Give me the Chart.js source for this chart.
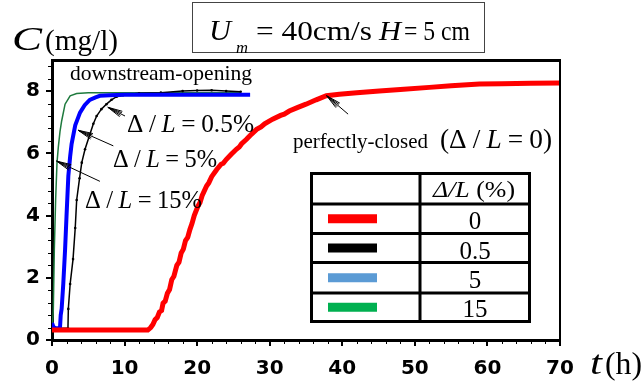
<!DOCTYPE html>
<html>
<head>
<meta charset="utf-8">
<script src="https://cdn.jsdelivr.net/npm/chart.js@4.4.0/dist/chart.umd.min.js"></script>
<style>
  body { margin: 0; background: #fff; }
  #wrap { width: 644px; height: 387px; }
</style>
</head>
<body>
<div id="wrap"><canvas id="c" width="644" height="387"></canvas></div>
<script>
// perfectly-closed (Δ/L = 0)
var tRed = [0, 5, 10, 13.2, 13.6, 13.9, 14.2, 14.5, 14.8, 15.1, 15.3, 15.6, 15.9, 16.2, 16.5, 16.8, 17.2, 17.5, 17.8, 18.1, 18.4, 18.7, 19.0, 19.3, 19.6, 20.1, 20.4, 20.7, 21.3, 21.6, 22.0, 22.7, 23.3, 23.6, 24.0, 24.7, 25.4, 25.8, 26.1, 26.8, 27.5, 28.2, 28.8, 29.3, 30.4, 31.5, 32.0, 32.7, 33.8, 35.0, 36.4, 37.8, 39.6, 42, 45.1, 48, 52, 55, 58.9, 62, 66, 70];
var cRed = [0.32, 0.32, 0.32, 0.32, 0.4, 0.5, 0.65, 0.72, 0.9, 0.95, 1.18, 1.25, 1.5, 1.62, 1.94, 2.05, 2.4, 2.5, 2.8, 2.92, 3.2, 3.3, 3.55, 3.75, 4.0, 4.3, 4.42, 4.65, 4.95, 5.05, 5.25, 5.48, 5.65, 5.68, 5.8, 5.97, 6.13, 6.2, 6.3, 6.45, 6.62, 6.77, 6.85, 6.95, 7.1, 7.22, 7.26, 7.36, 7.47, 7.58, 7.72, 7.85, 7.9, 7.95, 8.0, 8.05, 8.12, 8.17, 8.23, 8.24, 8.25, 8.26];
// Δ/L = 0.5 %
var tBlack = [0, 1, 2.2, 2.25, 2.5, 2.9, 3.2, 3.4, 3.8, 4.1, 4.55, 5.2, 5.7, 6.15, 6.8, 7.5, 8.2, 8.9, 9.8, 10.7, 12, 15, 18, 20, 22, 24, 26];
var cBlack = [0.38, 0.38, 0.38, 1.0, 1.8, 2.6, 3.6, 4.5, 5.2, 5.7, 6.13, 6.6, 6.95, 7.2, 7.42, 7.58, 7.72, 7.82, 7.87, 7.9, 7.93, 7.95, 8.0, 8.02, 8.03, 8.0, 7.98];
// Δ/L = 5 %
var tBlue = [0, 0.2, 0.5, 1.1, 1.2, 1.33, 1.56, 1.8, 2.0, 2.25, 2.5, 2.7, 3.2, 3.86, 4.5, 5.2, 6.0, 6.6, 8, 10, 15, 20, 25, 27.3];
var cBlue = [0.55, 0.42, 0.38, 0.38, 0.8, 1.0, 1.83, 2.9, 3.98, 5.27, 5.9, 6.3, 6.9, 7.31, 7.55, 7.72, 7.8, 7.85, 7.87, 7.88, 7.88, 7.88, 7.88, 7.88];
// Δ/L = 15 %
var tGreen = [0, 0.1, 0.18, 0.32, 0.5, 0.69, 0.87, 1.1, 1.33, 1.8, 2.5, 3.4, 5, 10, 15, 20, 26];
var cGreen = [0.45, 0.6, 0.97, 2.9, 4.5, 5.7, 6.2, 6.7, 7.04, 7.58, 7.85, 7.92, 7.95, 7.95, 7.95, 7.95, 7.95];

var xTicks = [0, 10, 20, 30, 40, 50, 60, 70];
var yTicks = [0, 2, 4, 6, 8];
var legendLabels = ["0", "0.5", "5", "15"];
var legendColors = ["#ff0000", "#000000", "#5b9bd5", "#00b050"];

function pts(t, c) {
  var out = [];
  for (var i = 0; i < t.length; i++) out.push({ x: t[i], y: c[i] });
  return out;
}

var SERIF = '"Liberation Serif", "Times New Roman", serif';
function f(size, it) { return (it ? "italic " : "") + size + "px " + SERIF; }

// draws a row of [text, font, dy] pieces starting at x, fitted to width w
function rich(ctx, parts, x, y, w) {
  var total = 0;
  for (var i = 0; i < parts.length; i++) {
    ctx.font = parts[i][1];
    total += ctx.measureText(parts[i][0]).width;
  }
  var sx = w ? w / total : 1;
  ctx.save();
  ctx.translate(x, y);
  ctx.scale(sx, 1);
  ctx.textAlign = "left";
  ctx.textBaseline = "alphabetic";
  ctx.fillStyle = "#000";
  var cx = 0;
  for (var j = 0; j < parts.length; j++) {
    ctx.font = parts[j][1];
    ctx.fillText(parts[j][0], cx, parts[j][2] || 0);
    cx += ctx.measureText(parts[j][0]).width;
  }
  ctx.restore();
}

// "Δ / L = value"
function ratio(pre, value, post, size) {
  var r = f(size), s = f(Math.round(size * 0.9));
  return [[pre + "Δ", r], [" ", s], ["/", r], [" ", s], ["L", f(size, true)], [" ", s], ["=", r], [" ", s], [value + post, r]];
}

function arrow(ctx, x1, y1, x2, y2) {
  var a = Math.atan2(y2 - y1, x2 - x1);
  ctx.beginPath();
  ctx.moveTo(x1, y1);
  ctx.lineTo(x2, y2);
  var spread = [0.1, 0.2];
  for (var i = 0; i < spread.length; i++) {
    for (var s = -1; s <= 1; s += 2) {
      ctx.moveTo(x2, y2);
      ctx.lineTo(x2 - 15 * Math.cos(a + s * spread[i]), y2 - 15 * Math.sin(a + s * spread[i]));
    }
  }
  ctx.stroke();
}

var extras = {
  id: "extras",
  afterDraw: function(chart) {
    var ctx = chart.ctx;
    var xs = chart.scales.x, ys = chart.scales.y;
    var a = chart.chartArea;
    ctx.save();
    ctx.strokeStyle = "#000";

    // frame top / right
    ctx.lineWidth = 3;
    ctx.beginPath();
    ctx.moveTo(a.left - 1, a.top + 0.5);
    ctx.lineTo(a.right + 1, a.top + 0.5);
    ctx.stroke();
    ctx.lineWidth = 2;
    ctx.beginPath();
    ctx.moveTo(a.right, a.top);
    ctx.lineTo(a.right, a.bottom);
    ctx.stroke();

    // minor ticks
    ctx.lineWidth = 1;
    ctx.beginPath();
    for (var v = 2; v < 70; v += 2) {
      if (v % 10 === 0) continue;
      var px = Math.round(xs.getPixelForValue(v)) + 0.5;
      ctx.moveTo(px, a.bottom);
      ctx.lineTo(px, a.bottom + 4);
    }
    for (var k = 1; k <= 22; k++) {
      if (k % 5 === 0) continue;
      var py = Math.round(ys.getPixelForValue(k * 0.4)) + 0.5;
      ctx.moveTo(a.left, py);
      ctx.lineTo(a.left - 4, py);
    }
    ctx.stroke();

    // arrows
    ctx.lineWidth = 1;
    function P(t, c) { return [xs.getPixelForValue(t), ys.getPixelForValue(c)]; }
    var ar = [[10.06, 7.2, 7.7, 7.48], [8.45, 6.24, 3.62, 6.74], [6.6, 5.1, 0.64, 5.75], [40.8, 7.26, 37.85, 7.85]];
    for (var i = 0; i < ar.length; i++) {
      var p1 = P(ar[i][0], ar[i][1]), p2 = P(ar[i][2], ar[i][3]);
      arrow(ctx, p1[0], p1[1], p2[0], p2[1]);
    }

    // axis titles
    rich(ctx, [["C", f(33, true)]], 12, 50, 30);
    rich(ctx, [["(mg/l)", f(30)]], 45, 50, 73);
    rich(ctx, [["t", f(34, true)]], 590, 374, 12);
    rich(ctx, [["(h)", f(31)]], 605, 374, 37);

    // condition box
    ctx.lineWidth = 1;
    ctx.strokeStyle = "#444";
    ctx.strokeRect(192.5, 2.5, 292, 50);
    ctx.strokeStyle = "#000";
    rich(ctx, [["U", f(29, true)]], 209, 40, 22);
    rich(ctx, [["m", f(17, true)]], 236, 53, 12);
    rich(ctx, [["= 40cm/s", f(28)]], 256, 40, 116);
    rich(ctx, [["H", f(28, true)]], 379, 40, 22);
    rich(ctx, [["= 5 cm", f(28)]], 404, 40, 66);

    // curve labels
    rich(ctx, [["downstream-opening", f(21)]], 70, 80, 182);
    rich(ctx, ratio("", "0.5", "%", 26), 127, 132, 127);
    rich(ctx, ratio("", "5", "%", 26), 113, 167, 104);
    rich(ctx, ratio("", "15", "%", 26), 85, 207.5, 117);
    rich(ctx, [["perfectly-closed", f(21)]], 293, 148, 135);
    rich(ctx, ratio("(", "0", ")", 27), 440, 148, 112);

    // legend table
    var tx0 = 311.5, tx1 = 529.5, tmid = 420;
    var rowY = [173.5, 204, 233.5, 262.5, 293, 321.5];
    ctx.fillStyle = "#fff";
    ctx.fillRect(tx0, rowY[0], tx1 - tx0, rowY[5] - rowY[0]);
    ctx.lineWidth = 3;
    ctx.strokeStyle = "#000";
    ctx.beginPath();
    for (var r = 0; r < rowY.length; r++) {
      ctx.moveTo(tx0 - 1.5, rowY[r]);
      ctx.lineTo(tx1 + 1.5, rowY[r]);
    }
    ctx.moveTo(tx0, rowY[0]); ctx.lineTo(tx0, rowY[5]);
    ctx.moveTo(tmid, rowY[0]); ctx.lineTo(tmid, rowY[5]);
    ctx.moveTo(tx1, rowY[0]); ctx.lineTo(tx1, rowY[5]);
    ctx.stroke();
    rich(ctx, [["Δ/L", f(24, true)], [" (%)", f(24)]], 433, 197, 82);
    var vb = [228.5, 259, 287.5, 316.5];
    for (var q = 0; q < legendLabels.length; q++) {
      var mid = (rowY[q + 1] + rowY[q + 2]) / 2;
      ctx.fillStyle = legendColors[q];
      ctx.fillRect(328, mid - 4.5, 49, 9);
      ctx.font = f(25);
      ctx.fillStyle = "#000";
      ctx.textAlign = "center";
      ctx.textBaseline = "alphabetic";
      ctx.fillText(legendLabels[q], 475, vb[q]);
    }
    ctx.restore();
  }
};

new Chart(document.getElementById("c"), {
  type: "line",
  data: {
    datasets: [
      { label: "0", data: pts(tRed, cRed), borderColor: "#ff0000", borderWidth: 5, pointRadius: 0 },
      { label: "5", data: pts(tBlue, cBlue), borderColor: "#0000ff", borderWidth: 4, pointRadius: 0 },
      { label: "0.5", data: pts(tBlack, cBlack), borderColor: "#000000", borderWidth: 1.5,
        pointRadius: 1.3, pointBackgroundColor: "#000", pointBorderWidth: 0 },
      { label: "15", data: pts(tGreen, cGreen), borderColor: "#1f7a3e", borderWidth: 1.5, pointRadius: 0 }
    ]
  },
  options: {
    responsive: false,
    devicePixelRatio: 1,
    animation: false,
    events: [],
    layout: { padding: { left: 0, right: 84, top: 60, bottom: 0 } },
    plugins: { legend: { display: false }, tooltip: { enabled: false } },
    elements: { line: { tension: 0 } },
    scales: {
      x: {
        type: "linear", min: 0, max: 70,
        afterFit: function(s) { s.height = 47; },
        afterBuildTicks: function(s) { s.ticks = xTicks.map(function(v) { return { value: v }; }); },
        border: { display: true, width: 3, color: "#000" },
        grid: { drawOnChartArea: false, drawTicks: true, tickLength: 6, lineWidth: 2, color: "#000" },
        ticks: { padding: 11, color: "#000", maxRotation: 0, font: { family: "DejaVu Sans", size: 20, weight: "bold" } }
      },
      y: {
        type: "linear", min: 0, max: 9,
        afterFit: function(s) { s.width = 52; },
        afterBuildTicks: function(s) { s.ticks = yTicks.map(function(v) { return { value: v }; }); },
        border: { display: true, width: 3, color: "#000" },
        grid: { drawOnChartArea: false, drawTicks: true, tickLength: 6, lineWidth: 2, color: "#000" },
        ticks: { padding: 6, color: "#000", font: { family: "DejaVu Sans", size: 20, weight: "bold" } }
      }
    }
  },
  plugins: [extras]
});
</script>
</body>
</html>
